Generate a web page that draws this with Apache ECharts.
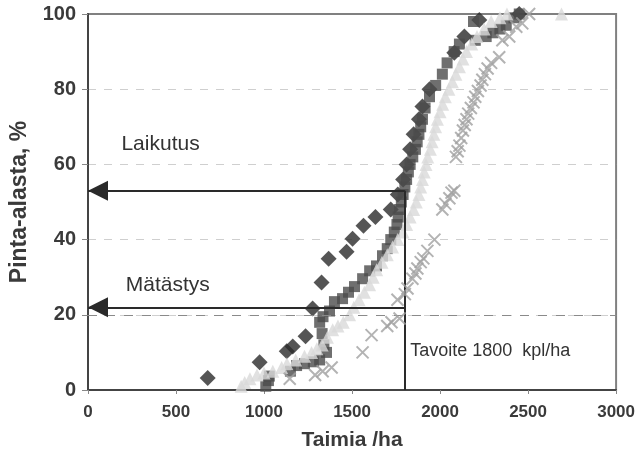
<!DOCTYPE html>
<html>
<head>
<meta charset="utf-8">
<script src="https://cdn.jsdelivr.net/npm/echarts@6/dist/echarts.min.js"></script>
<style>
  html, body { margin: 0; padding: 0; background: #fff; }
  #chart { width: 638px; height: 456px; }
</style>
</head>
<body>
<div id="chart"></div>
<script>
// Cumulative share of area (%) against seedlings per hectare, one list per site preparation series
const diamondPts = [
  [680, 3.2], [975, 7.4], [1129, 10.3], [1163, 11.6], [1236, 14.3], [1276, 21.7],
  [1327, 28.6], [1367, 34.9], [1469, 36.8], [1503, 40.2], [1565, 43.7], [1633, 46.0],
  [1720, 48], [1760, 52], [1790, 56], [1810, 60], [1830, 64], [1850, 68], [1880, 72],
  [1900, 75.4], [1940, 80], [2081, 89.7], [2138, 94], [2223, 98.4], [2450, 100]
];
const squarePts = [
  [1010, 1], [1025, 2.5], [1030, 3.7], [1150, 5], [1185, 6.5], [1230, 7], [1280, 7.5],
  [1316, 8], [1355, 10], [1340, 12], [1330, 15], [1316, 18], [1335, 19.5], [1372, 21],
  [1400, 23.5], [1446, 24.3], [1480, 26], [1514, 27.5], [1560, 29.6], [1600, 31.7],
  [1639, 33], [1673, 35.7], [1700, 37.6], [1720, 40], [1740, 42], [1755, 44], [1762, 46],
  [1770, 48], [1780, 50], [1790, 52], [1800, 54], [1810, 56], [1820, 58], [1830, 60],
  [1845, 62], [1860, 64], [1870, 66], [1880, 68], [1890, 70], [1900, 72], [1915, 75],
  [1940, 78], [1975, 81], [2013, 84], [2040, 87], [2080, 90], [2110, 92], [2200, 93],
  [2262, 94], [2300, 95], [2340, 96], [2376, 97], [2190, 98], [2420, 99], [2450, 100]
];
const trianglePts = [
  [870, 1], [890, 2], [920, 3], [960, 4], [1000, 4.5], [1050, 5], [1100, 6], [1130, 7],
  [1180, 8], [1230, 9], [1270, 10], [1300, 11], [1330, 12], [1360, 14], [1390, 16],
  [1420, 17], [1450, 18], [1486, 20], [1510, 22], [1540, 24], [1570, 26], [1600, 28],
  [1620, 30], [1640, 32], [1670, 34], [1700, 36], [1730, 38], [1760, 40], [1790, 42],
  [1810, 44], [1830, 46], [1850, 48], [1865, 50], [1880, 52], [1890, 54], [1900, 56],
  [1910, 58], [1920, 60], [1930, 62], [1945, 64], [1955, 66], [1965, 68], [1975, 70],
  [1985, 72], [2000, 74], [2015, 76], [2030, 78], [2050, 80], [2070, 82], [2090, 84],
  [2110, 86], [2130, 88], [2150, 90], [2180, 92], [2210, 94], [2250, 96], [2290, 98],
  [2340, 99], [2380, 100], [2690, 100]
];
const crossPts = [
  [1146, 3], [1290, 4], [1333, 5], [1384, 6], [1560, 10], [1611, 14.6], [1700, 17],
  [1724, 18], [1770, 19], [1758, 24], [1800, 25.5], [1815, 27], [1843, 29.6], [1860, 31],
  [1871, 32.3], [1890, 34], [1905, 35], [1928, 37], [1968, 40], [2013, 48], [2030, 49.5],
  [2053, 51], [2065, 52.5], [2081, 53], [2090, 62], [2100, 63.5], [2110, 65], [2120, 67],
  [2130, 69], [2140, 70.5], [2150, 72], [2160, 73.5], [2175, 75], [2190, 76.5], [2200, 78],
  [2215, 79.5], [2230, 81], [2240, 82.5], [2255, 84], [2270, 85.5], [2290, 87], [2336, 88.5],
  [2354, 93], [2393, 94], [2433, 96.6], [2467, 97.5], [2506, 100]
];

// Axis set-up and the target line
const xTicks = [0, 500, 1000, 1500, 2000, 2500, 3000];
const yTicks = [0, 20, 40, 60, 80, 100];
const targetDensity = 1800;
const laikutusShare = 53;
const matastysShare = 22;

const FONT = 'Liberation Sans, Arial, Helvetica, sans-serif';
const lineStyle = { color: '#2a2a2a', width: 2, type: 'solid' };
const arrowHead = { symbol: 'triangle', symbolSize: [20, 20], symbolOffset: [0, 10] };

const chart = echarts.init(document.getElementById('chart'), null, { renderer: 'canvas' });

chart.setOption({
  animation: false,
  backgroundColor: '#ffffff',
  grid: {
    left: 88, right: 21, top: 14, bottom: 64,
    show: true, borderColor: '#808080', borderWidth: 2, backgroundColor: 'transparent'
  },
  xAxis: {
    type: 'value',
    min: xTicks[0], max: xTicks[xTicks.length - 1], interval: 500,
    name: 'Taimia /ha', nameLocation: 'middle', nameGap: 40,
    nameTextStyle: { fontFamily: FONT, fontWeight: 'bold', fontSize: 21, color: '#3a3a3a' },
    axisLine: { show: true, lineStyle: { color: '#444', width: 2 } },
    axisTick: { show: true, length: 4, lineStyle: { color: '#888' } },
    axisLabel: {
      fontFamily: FONT, fontWeight: 'bold', fontSize: 17, color: '#3a3a3a', margin: 14,
      formatter: v => String(v)
    },
    splitLine: { show: false }
  },
  yAxis: {
    type: 'value',
    min: yTicks[0], max: yTicks[yTicks.length - 1], interval: 20,
    name: 'Pinta-alasta, %', nameLocation: 'middle', nameGap: 57,
    nameTextStyle: { fontFamily: FONT, fontWeight: 'bold', fontSize: 23, color: '#3a3a3a' },
    axisLine: { show: true, lineStyle: { color: '#444', width: 2 } },
    axisTick: { show: true, length: 6, lineStyle: { color: '#888' } },
    axisLabel: { fontFamily: FONT, fontWeight: 'bold', fontSize: 20, color: '#3a3a3a', margin: 12 },
    splitLine: {
      show: true, showMinLine: false, showMaxLine: false,
      lineStyle: { color: '#cfcfcf', width: 1, type: [8, 8] }
    }
  },
  series: [
    {
      name: 'diamonds', type: 'scatter', data: diamondPts,
      symbol: 'diamond', symbolSize: 16,
      itemStyle: { color: '#2b2b2b' }, z: 2
    },
    {
      name: 'squares', type: 'scatter', data: squarePts,
      symbol: 'rect', symbolSize: 11,
      itemStyle: { color: '#4b4b4b' }, z: 3
    },
    {
      name: 'triangles', type: 'scatter', data: trianglePts,
      symbol: 'triangle', symbolSize: 13,
      itemStyle: { color: '#d9d9d9' }, z: 4
    },
    {
      name: 'crosses', type: 'scatter', data: crossPts,
      symbol: 'path://M0,0L10,10M10,0L0,10', symbolSize: 12,
      itemStyle: { color: 'none', borderColor: '#a0a0a0', borderWidth: 2 }, z: 5
    },
    {
      // reference lines, arrows and annotation texts
      name: 'notes', type: 'scatter', data: [], z: 6,
      markLine: {
        silent: true, animation: false,
        label: { show: false },
        data: [
          [{ coord: [xTicks[0], 20], symbol: 'none', lineStyle: { color: '#8a8a8a', width: 1, type: [9, 9] } },
           { coord: [xTicks[xTicks.length - 1], 20], symbol: 'none' }],
          [{ coord: [targetDensity, laikutusShare], symbol: 'none', lineStyle: lineStyle },
           Object.assign({ coord: [0, laikutusShare] }, arrowHead)],
          [{ coord: [targetDensity, matastysShare], symbol: 'none', lineStyle: lineStyle },
           Object.assign({ coord: [0, matastysShare] }, arrowHead)],
          [{ coord: [targetDensity, 0], symbol: 'none', lineStyle: lineStyle },
           { coord: [targetDensity, laikutusShare], symbol: 'none' }]
        ]
      },
      markPoint: {
        silent: true, symbol: 'circle', symbolSize: 0,
        label: {
          show: true, fontFamily: FONT, color: '#333', position: 'right', distance: 0
        },
        data: [
          { coord: [190, 65.3], value: 'Laikutus', label: { formatter: 'Laikutus', fontSize: 21 } },
          { coord: [215, 28.0], value: 'Mätästys', label: { formatter: 'Mätästys', fontSize: 21 } },
          { coord: [1830, 10.3], value: 'Tavoite', label: { formatter: 'Tavoite 1800  kpl/ha', fontSize: 18 } }
        ]
      }
    }
  ]
});
</script>
</body>
</html>
